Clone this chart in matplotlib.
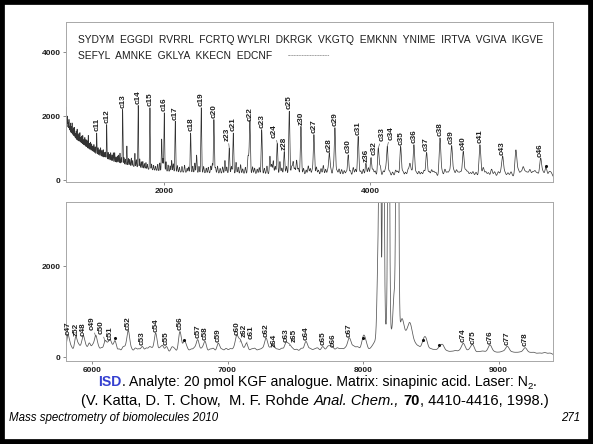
import numpy as np
import matplotlib
matplotlib.use("Agg")
import matplotlib.pyplot as plt

plt.rcParams['font.family'] = ['Liberation Sans', 'DejaVu Sans']

# ---------------- data: upper spectrum (m/z 1049-5777) ----------------
top_base_mz = [1049, 1100, 1150, 1230, 1300, 1380, 1450, 1520, 1600, 1700,
               1800, 1950, 2150, 2400, 2800, 3300, 3900, 4600, 5200, 5777]
top_base_int = [1650, 1420, 1230, 1060, 900, 760, 650, 560, 490, 430,
                360, 290, 250, 225, 200, 170, 140, 120, 110, 100]

top_ions = ['c11', 'c12', 'c13', 'c14', 'c15', 'c16', 'c17', 'c18', 'c19', 'c20',
            'z23', 'c21', 'c22', 'c23', 'c24', 'z28', 'c25', 'z30', 'c27', 'c28',
            'c29', 'c30', 'c31', 'z36', 'c32', 'c33', 'c34', 'c35', 'c36', 'c37',
            'c38', 'c39', 'c40', 'c41', 'c43', 'c46']
top_ion_mz = [1347, 1444, 1599, 1750, 1864, 2003, 2110, 2259, 2362, 2485,
              2634, 2673, 2835, 2949, 3100, 3168, 3217, 3330, 3456, 3605,
              3660, 3789, 3886, 3961, 4010, 4081, 4168, 4298, 4427, 4550,
              4680, 4793, 4906, 5068, 5288, 5657]
top_ion_int = [1474, 1737, 2211, 2337, 2263, 2105, 1842, 1474, 2263, 1895,
               1000, 1474, 1810, 1579, 1150, 895, 2158, 1684, 1421, 842,
               1632, 790, 1368, 526, 690, 1000, 1050, 1053, 1105, 863,
               1316, 1074, 895, 1105, 737, 684]
# labels set off from their peak, joined by a leader line: (m/z, intensity)
top_label_at = {'z23': (2618, 1230), 'c24': (3071, 1330), 'c32': (4036, 800),
                'c33': (4123, 1220), 'c34': (4205, 1270)}

top_minor_mz = [1052, 1058, 1064, 1071, 1078, 1085, 1092, 1100, 1108, 1116,
                1124, 1132, 1140, 1148, 1157, 1166, 1175, 1184, 1193, 1202,
                1212, 1222, 1232, 1243, 1253, 1265, 1276, 1287, 1298, 1309,
                1320, 1332, 1360, 1372, 1385, 1398, 1410, 1422, 1432, 1458,
                1470, 1483, 1496, 1508, 1522, 1535, 1548, 1560, 1573, 1586,
                1612, 1625, 1640, 1655, 1668, 1683, 1697, 1718, 1732, 1765,
                1780, 1795, 1810, 1825, 1840, 1880, 1900, 1920, 1940, 1960,
                1978, 1990, 2020, 2040, 2060, 2075, 2090, 2130, 2150, 2175,
                2200, 2225, 2240, 2280, 2300, 2317, 2340, 2385, 2410, 2430,
                2455, 2470, 2500, 2520, 2545, 2570, 2592, 2610, 2655, 2700,
                2720, 2744, 2765, 2790, 2815, 2825, 2860, 2880, 2905, 2925,
                2975, 3000, 3029, 3045, 3061, 3080, 3126, 3145, 3190, 3240,
                3254, 3270, 3288, 3305, 3355, 3380, 3401, 3420, 3440, 3480,
                3500, 3525, 3547, 3570, 3590, 3620, 3644, 3680, 3700, 3725,
                3750, 3770, 3810, 3838, 3860, 3910, 3935, 3985, 4030, 4050,
                4100, 4130, 4150, 4190, 4220, 4250, 4270, 4320, 4345, 4370,
                4388, 4405, 4450, 4475, 4500, 4525, 4575, 4599, 4620, 4640,
                4700, 4728, 4750, 4770, 4815, 4840, 4860, 4880, 4930, 4950,
                4975, 5000, 5030, 5100, 5125, 5150, 5181, 5210, 5246, 5270,
                5310, 5340, 5370, 5417, 5440, 5465, 5488, 5510, 5530, 5553,
                5580, 5602, 5625, 5680, 5709, 5741, 5760]
top_minor_amp = [650, 300, 420, 250, 380, 200, 330, 260, 400, 220,
                 310, 350, 200, 300, 380, 220, 280, 330, 200, 260,
                 300, 190, 280, 240, 230, 420, 200, 260, 230, 180,
                 250, 200, 220, 180, 260, 200, 240, 170, 200, 230,
                 180, 250, 200, 280, 300, 180, 220, 260, 330, 200,
                 220, 180, 600, 220, 200, 250, 180, 420, 230, 280,
                 200, 220, 160, 200, 150, 180, 150, 130, 200, 250,
                 1000, 400, 300, 200, 180, 350, 250, 200, 150, 180,
                 220, 130, 170, 200, 300, 550, 200, 200, 150, 180,
                 220, 300, 180, 220, 150, 200, 400, 200, 220, 350,
                 200, 280, 150, 200, 500, 450, 220, 180, 150, 200,
                 180, 250, 560, 300, 420, 250, 400, 200, 250, 250,
                 400, 200, 450, 200, 200, 150, 280, 200, 150, 250,
                 150, 200, 300, 180, 150, 200, 220, 150, 200, 180,
                 150, 120, 150, 250, 200, 150, 200, 250, 200, 150,
                 300, 150, 200, 150, 120, 180, 150, 150, 120, 200,
                 380, 150, 130, 150, 120, 180, 150, 200, 150, 120,
                 150, 220, 130, 150, 180, 200, 120, 150, 200, 150,
                 120, 150, 130, 280, 150, 120, 230, 150, 150, 120,
                 130, 120, 150, 830, 200, 150, 300, 150, 120, 220,
                 150, 180, 120, 150, 300, 150, 120]
top_star_mz = [5709]
top_star_int = [430]

# ---------------- data: lower spectrum (m/z 5808-9402) ----------------
bot_base_mz = [5808, 6000, 6500, 7000, 7500, 7900, 8000, 8040, 8080, 8300,
               8400, 8600, 9000, 9402]
bot_base_int = [110, 100, 90, 85, 85, 100, 130, 120, 200, 260,
                120, 65, 55, 45]

bot_ions = ['c47', 'z52', 'c48', 'c49', 'c50', 'c51', 'c52', 'c53', 'c54', 'c55',
            'c56', 'c57', 'c58', 'c59', 'c60', 'z62', 'c61', 'c62', 'z64', 'c63',
            'z65', 'c64', 'c65', 'c66', 'c67', 'c74', 'c75', 'c76', 'c77', 'c78']
bot_ion_mz = [5821, 5880, 5936, 6027, 6096, 6133, 6268, 6371, 6470, 6550,
              6649, 6780, 6834, 6932, 7068, 7092, 7140, 7284, 7343, 7432,
              7456, 7579, 7703, 7776, 7899, 8740, 8810, 8937, 9065, 9196]
bot_ion_int = [446, 433, 433, 446, 337, 337, 557, 227, 520, 227,
               557, 374, 337, 300, 446, 330, 300, 410, 190, 300,
               250, 337, 227, 190, 410, 290, 250, 260, 230, 200]
bot_label_at = {'c49': (5998, 590), 'c50': (6066, 500), 'z62': (7120, 430),
                'c61': (7175, 390), 'z65': (7490, 320)}

# molecular-ion cluster (broad, runs off scale)
bot_main_mz = [8112, 8125, 8150, 8189, 8230, 8248, 8258, 8170]
bot_main_amp = [1800, 7000, 7000, 8000, 900, 6500, 6000, 420]
bot_main_sig = [8, 6, 6, 6, 8, 6, 6, 55]

bot_minor_mz = [5835, 5850, 5900, 5920, 5955, 5980, 6005, 6045, 6070, 6115,
                6150, 6170, 6200, 6230, 6250, 6290, 6320, 6345, 6400, 6425,
                6445, 6500, 6520, 6590, 6610, 6681, 6700, 6730, 6755, 6810,
                6870, 6895, 6960, 6990, 7020, 7045, 7110, 7175, 7200, 7230,
                7255, 7310, 7330, 7370, 7400, 7480, 7510, 7545, 7610, 7640,
                7665, 7740, 7760, 7810, 7840, 7870, 7930, 7960, 8002, 8020,
                8280, 8293, 8320, 8342, 8360, 8385, 8410, 8445, 8465, 8500,
                8530, 8563, 8588, 8620, 8650, 8680, 8710, 8770, 8790, 8850,
                8880, 8905, 8970, 9000, 9030, 9100, 9130, 9160, 9230, 9260,
                9300, 9340, 9380]
bot_minor_amp = [120, 80, 150, 100, 120, 200, 150, 120, 100, 150,
                 100, 250, 80, 120, 100, 80, 100, 80, 100, 120,
                 80, 90, 150, 120, 80, 250, 100, 80, 100, 90,
                 80, 100, 80, 100, 90, 80, 100, 80, 100, 70,
                 90, 80, 100, 80, 100, 90, 80, 100, 90, 70,
                 100, 120, 80, 100, 80, 90, 120, 100, 280, 150,
                 250, 350, 200, 400, 250, 120, 100, 200, 250, 80,
                 70, 120, 180, 60, 50, 70, 60, 50, 60, 50,
                 60, 40, 50, 40, 60, 50, 40, 50, 40, 50,
                 40, 50, 40]
bot_star_mz = [6170, 6681, 8002, 8445, 8563]
bot_star_int = [425, 380, 415, 380, 268]

sequence_lines = ["SYDYM  EGGDI  RVRRL  FCRTQ WYLRI  DKRGK  VKGTQ  EMKNN  YNIME  IRTVA  VGIVA  IKGVE",
                  "SEFYL  AMNKE  GKLYA  KKECN  EDCNF"]

TXT = '#1e1e1e'
ION_FS = 5.9


def spectrum(grid, base_mz, base_int, pk_mz, pk_amp, pk_sig):
    y = np.interp(grid, base_mz, base_int)
    for m, a, s in zip(pk_mz, pk_amp, pk_sig):
        y = y + a * np.exp(-0.5 * ((grid - m) / s) ** 2)
    return y


def width_of(mz, k):
    return [k * m for m in mz]


def style_axes(ax):
    for sp in ax.spines.values():
        sp.set_color('#a8a8a8')
        sp.set_linewidth(0.7)
    ax.tick_params(direction='out', length=2.5, width=0.6, color='#777',
                   labelsize=6, pad=1.5, labelcolor=TXT)
    for lab in ax.get_xticklabels() + ax.get_yticklabels():
        lab.set_fontweight('bold')


def label_peaks(ax, ions, mzs, ints, moved):
    for name, m, h in zip(ions, mzs, ints):
        kw = dict(rotation=90, ha='center', va='bottom', fontsize=ION_FS,
                  fontweight='bold', color=TXT, annotation_clip=False,
                  linespacing=0.9)
        if name in moved:
            ax.annotate(name, xy=(m, h), xytext=moved[name], textcoords='data',
                        arrowprops=dict(arrowstyle='-', lw=0.5, color='#666',
                                        shrinkA=0, shrinkB=0), **kw)
        else:
            ax.annotate(name, xy=(m, h), xytext=(0, 1.2),
                        textcoords='offset points', **kw)


fig = plt.figure(figsize=(5.93, 4.44), dpi=100)
fig.patch.set_facecolor('white')

# ---------------- upper panel ----------------
ax1 = fig.add_axes([0.1113, 0.5901, 0.8212, 0.3604])
g1 = np.arange(1049, 5777.5, 0.5)
base1_at_ions = np.interp(top_ion_mz, top_base_mz, top_base_int)
mz1 = top_minor_mz + top_ion_mz
amp1 = top_minor_amp + [h - b for h, b in zip(top_ion_int, base1_at_ions)]
y1 = spectrum(g1, top_base_mz, top_base_int, mz1, amp1, width_of(mz1, 0.0017))
ax1.plot(g1, y1, color='#333333', lw=0.5)
ax1.set_xlim(1049, 5777)
ax1.set_ylim(-60, 4950)
ax1.set_xticks([2000, 4000])
ax1.set_yticks([0, 2000, 4000])
style_axes(ax1)
label_peaks(ax1, top_ions, top_ion_mz, top_ion_int, top_label_at)
ax1.scatter(top_star_mz, top_star_int, s=1.5, color='#111', zorder=3)
ax1.text(0.025, 0.885, sequence_lines[0], transform=ax1.transAxes,
         fontsize=7.4, color=TXT, va='center', ha='left')
ax1.text(0.025, 0.785, sequence_lines[1], transform=ax1.transAxes,
         fontsize=7.4, color=TXT, va='center', ha='left')
ax1.text(0.455, 0.79, '-' * 26, transform=ax1.transAxes, fontsize=3.6,
         color='#333', va='center', ha='left')

# ---------------- lower panel ----------------
ax2 = fig.add_axes([0.1113, 0.1869, 0.8212, 0.3592])
g2 = np.arange(5808, 9402.5, 1.0)
base2_at_ions = np.interp(bot_ion_mz, bot_base_mz, bot_base_int)
mz2 = bot_minor_mz + bot_ion_mz
amp2 = bot_minor_amp + [h - b for h, b in zip(bot_ion_int, base2_at_ions)]
y2 = spectrum(g2, bot_base_mz, bot_base_int, mz2 + bot_main_mz,
              amp2 + bot_main_amp, width_of(mz2, 0.0016) + bot_main_sig)
ax2.plot(g2, y2, color='#555555', lw=0.55)
ax2.set_xlim(5808, 9402)
ax2.set_ylim(-88, 3418)
ax2.set_xticks([6000, 7000, 8000, 9000])
ax2.set_yticks([0, 2000])
style_axes(ax2)
label_peaks(ax2, bot_ions, bot_ion_mz, bot_ion_int, bot_label_at)
ax2.scatter(bot_star_mz, bot_star_int, s=1.5, color='#111', zorder=3)

# ---------------- caption ----------------
fig.canvas.draw()
renderer = fig.canvas.get_renderer()
W = fig.bbox.width


def rich_line(pieces, y, x_center=None, x_left=None):
    items = []
    for s, kw in pieces:
        dy = kw.pop('dy', 0.0)
        t = fig.text(0, y + dy, s, va='baseline', ha='left', **kw)
        items.append(t)
    widths = [t.get_window_extent(renderer).width for t in items]
    x = x_center * W - sum(widths) / 2 if x_center is not None else x_left * W
    for t, w in zip(items, widths):
        t.set_x(x / W)
        x += w


cap1 = dict(fontsize=10.1, color='black')
cap2 = dict(fontsize=10.6, color='black')
rich_line([('ISD', dict(fontsize=10.1, color='#3540d0', fontweight='bold')),
           ('. Analyte: 20 pmol KGF analogue. Matrix: sinapinic acid. Laser: N', dict(cap1)),
           ('2', dict(fontsize=6.8, color='black', dy=-0.006)),
           ('.', dict(cap1))],
          y=1 - 386 / 444, x_center=0.536)
rich_line([('(V. Katta, D. T. Chow,  M. F. Rohde ', dict(cap2)),
           ('Anal. Chem.,', dict(cap2, style='italic')),
           (' ', dict(cap2)),
           ('70', dict(cap2, fontweight='bold')),
           (', 4410-4416, 1998.)', dict(cap2))],
          y=1 - 405 / 444, x_center=0.531)
fig.text(0.016, 1 - 421 / 444, 'Mass spectrometry of biomolecules 2010',
         fontsize=8.3, style='italic', color='black', va='baseline')
fig.text(0.978, 1 - 421 / 444, '271', fontsize=8.3, style='italic',
         color='black', va='baseline', ha='right')

# slide frame
fig.patches.append(matplotlib.patches.Rectangle(
    (0, 0), 1, 1, transform=fig.transFigure, fill=False,
    edgecolor='black', linewidth=7, zorder=10))

fig.savefig('out.png', dpi=100)
